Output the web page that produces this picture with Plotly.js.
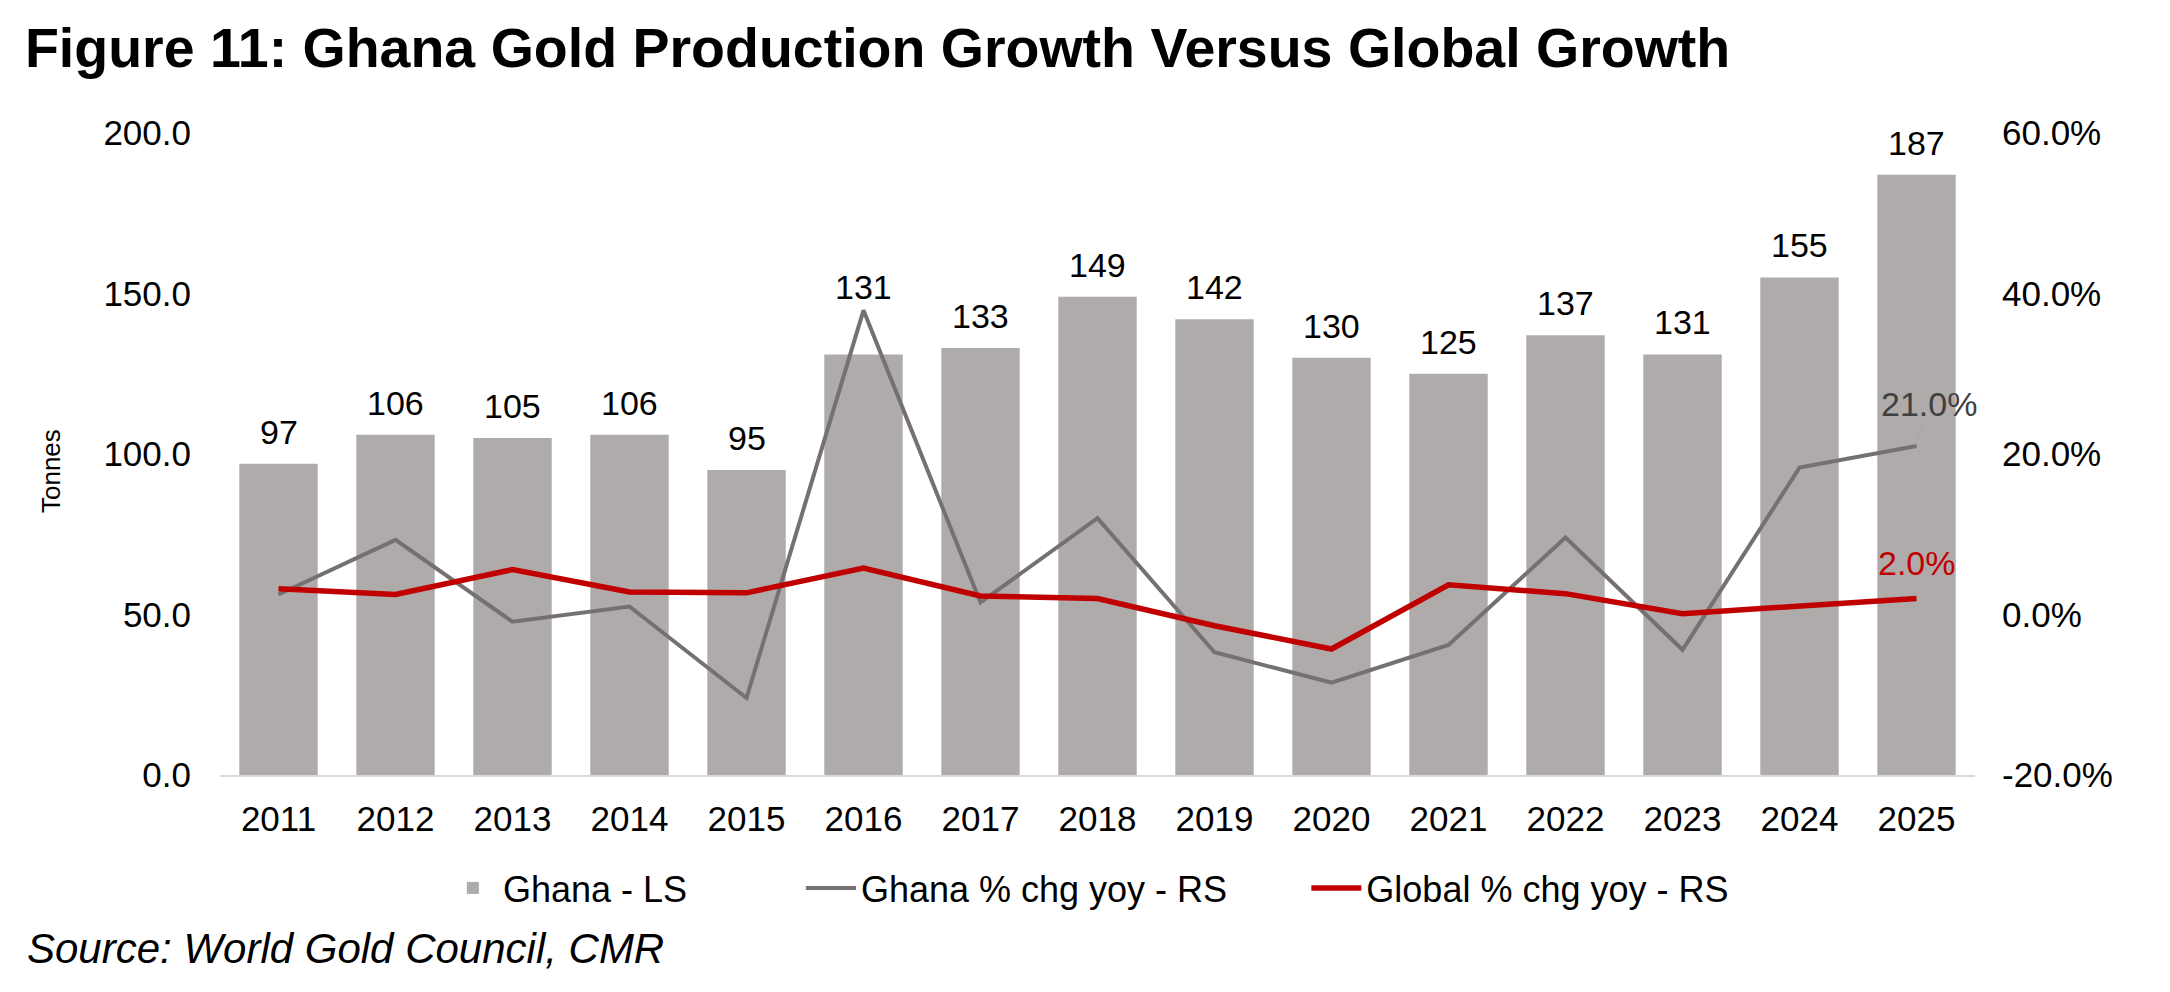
<!DOCTYPE html>
<html>
<head>
<meta charset="utf-8">
<script src="https://cdn.plot.ly/plotly-3.0.1.min.js"></script>
<style>
  html, body { margin: 0; padding: 0; background: #ffffff; }
  #chart { width: 2170px; height: 992px; }
</style>
</head>
<body>
<div id="chart"></div>
<script>
// Ghana gold output (tonnes) and year-on-year growth against global supply growth
const years = ['2011', '2012', '2013', '2014', '2015', '2016', '2017', '2018',
               '2019', '2020', '2021', '2022', '2023', '2024', '2025'];
const ghanaTonnes = [97, 106, 105, 106, 95, 131, 133, 149, 142, 130, 125, 137, 131, 155, 187];
const ghanaYoY = [2.5, 9.3, -0.9, 1.0, -10.4, 37.9, 1.5, 12.0, -4.7, -8.5, -3.8, 9.6, -4.4, 18.3, 21.0];
const globalYoY = [3.2, 2.5, 5.6, 2.8, 2.7, 5.8, 2.3, 2.0, -1.4, -4.3, 3.7, 2.6, 0.1, 1.0, 2.0];

const leftRange = [0, 200];
const rightRange = [-20, 60];
const leftTickVals = [0, 50, 100, 150, 200];
const leftTickText = ['0.0', '50.0', '100.0', '150.0', '200.0'];
const rightTickVals = [-20, 0, 20, 40, 60];
const rightTickText = ['-20.0%', '0.0%', '20.0%', '40.0%', '60.0%'];

const FONT = 'Liberation Sans, Arial, Helvetica, sans-serif';
const BAR_COLOR = '#AEABAA';
const GHANA_LINE = '#767171';
const GLOBAL_LINE = '#C00000';

const traces = [
  {
    type: 'bar', name: 'Ghana - LS', x: years, y: ghanaTonnes,
    marker: { color: BAR_COLOR }, yaxis: 'y', legend: 'legend',
    hoverinfo: 'x+y'
  },
  {
    type: 'scatter', mode: 'lines', name: 'Ghana % chg yoy - RS', x: years, y: ghanaYoY,
    line: { color: GHANA_LINE, width: 4 }, yaxis: 'y2', legend: 'legend2'
  },
  {
    type: 'scatter', mode: 'lines', name: 'Global % chg yoy - RS', x: years, y: globalYoY,
    line: { color: GLOBAL_LINE, width: 5.5 }, yaxis: 'y2', legend: 'legend3'
  }
];

// express a right-axis value in left-axis units (both axes share the plot height)
function rightToLeft(v) {
  return leftRange[0] + (v - rightRange[0]) / (rightRange[1] - rightRange[0]) * (leftRange[1] - leftRange[0]);
}

// value labels above each bar; lifted clear of the Ghana line where it peaks above the bar
const annotations = years.map((yr, i) => {
  const lineTop = rightToLeft(ghanaYoY[i]);
  const clearsLine = lineTop > ghanaTonnes[i];
  return {
    x: i, y: clearsLine ? lineTop : ghanaTonnes[i], xref: 'x', yref: 'y',
    text: String(ghanaTonnes[i]), showarrow: false,
    yanchor: 'bottom', yshift: clearsLine ? 2 : 11,
    font: { family: FONT, size: 34, color: '#000000' }
  };
});

// end-of-series labels for the two growth lines
const last = years.length - 1;
annotations.push({
  x: last, y: ghanaYoY[last], xref: 'x', yref: 'y2',
  text: ghanaYoY[last].toFixed(1) + '%', showarrow: true,
  arrowhead: 0, arrowwidth: 0.8, arrowcolor: '#A6A6A6',
  ax: 12, ay: -42, standoff: 2,
  font: { family: FONT, size: 34, color: '#404040' }
});
annotations.push({
  x: last, y: globalYoY[last], xref: 'x', yref: 'y2',
  text: globalYoY[last].toFixed(1) + '%', showarrow: false,
  yanchor: 'bottom', yshift: 14,
  font: { family: FONT, size: 34, color: '#C00000' }
});

// left axis caption
annotations.push({
  xref: 'paper', yref: 'paper', x: -0.0963, y: 0.4735,
  xanchor: 'center', yanchor: 'middle', showarrow: false,
  textangle: -90, text: 'Tonnes',
  font: { family: FONT, size: 26, color: '#000000' }
});

// source line
annotations.push({
  xref: 'paper', yref: 'paper', x: -0.111, y: -0.27,
  xanchor: 'left', yanchor: 'middle', showarrow: false,
  text: 'Source: World Gold Council, CMR',
  font: { family: FONT, size: 42, color: '#000000', style: 'italic' }
});

const legendBase = {
  orientation: 'h', yanchor: 'middle', y: -0.176, xanchor: 'left',
  bgcolor: 'rgba(0,0,0,0)', itemwidth: 50,
  font: { family: FONT, size: 36, color: '#000000' }
};

const layout = {
  width: 2170, height: 992,
  margin: { l: 220, r: 195, t: 133, b: 217 },
  paper_bgcolor: '#ffffff', plot_bgcolor: '#ffffff',
  font: { family: FONT, color: '#000000' },
  title: {
    text: 'Figure 11: Ghana Gold Production Growth Versus Global Growth',
    xref: 'container', x: 0.0115, xanchor: 'left',
    yref: 'container', y: 0.952, yanchor: 'middle',
    font: { family: FONT, size: 55.5, color: '#000000', weight: 'bold' }
  },
  bargap: 0.33,
  xaxis: {
    type: 'category', range: [-0.5, years.length - 0.5], autorange: false,
    tickfont: { family: FONT, size: 35 },
    showline: true, linecolor: '#D9D9D9', linewidth: 2,
    ticks: '', showgrid: false, zeroline: false, ticklabelstandoff: 12
  },
  yaxis: {
    range: leftRange, autorange: false,
    tickmode: 'array', tickvals: leftTickVals, ticktext: leftTickText,
    tickfont: { family: FONT, size: 35 },
    showgrid: false, zeroline: false, showline: false, ticks: '',
    ticklabelstandoff: 28
  },
  yaxis2: {
    overlaying: 'y', side: 'right', range: rightRange, autorange: false,
    tickmode: 'array', tickvals: rightTickVals, ticktext: rightTickText,
    tickfont: { family: FONT, size: 35 },
    showgrid: false, zeroline: false, showline: false, ticks: '',
    ticklabelstandoff: 26
  },
  legend: Object.assign({}, legendBase, { x: 0.127 }),
  legend2: Object.assign({}, legendBase, { x: 0.331 }),
  legend3: Object.assign({}, legendBase, { x: 0.619 }),
  annotations: annotations,
  showlegend: true
};

Plotly.newPlot('chart', traces, layout, { displayModeBar: false, responsive: false });
</script>
</body>
</html>
